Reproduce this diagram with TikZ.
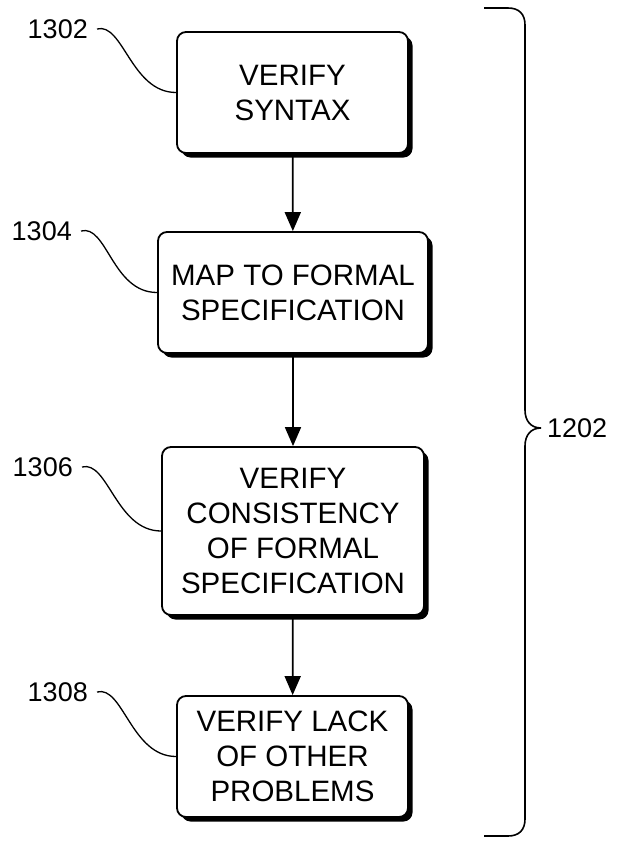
\documentclass[tikz,border=0pt]{standalone}
\usepackage{fontspec}
\setmainfont{Liberation Sans}
\usetikzlibrary{arrows.meta,shadows}
\begin{document}
\begin{tikzpicture}[x=1pt,y=-1pt,
  stepbox/.style={draw=black, line width=1.8pt, rounded corners=9pt, fill=white,
    align=center, inner sep=2pt,
    font=\fontsize{29.5}{35}\selectfont,
    drop shadow={shadow xshift=4.5pt, shadow yshift=-4.5pt, fill=black, opacity=1}},
  reflabel/.style={anchor=east, inner sep=0pt, font=\fontsize{27}{30}\selectfont},
  leader/.style={line width=1.3pt},
  flow/.style={line width=1.8pt, -{Triangle[length=19pt,width=16pt]}}]
\useasboundingbox (0,0) rectangle (624,844);

\node[stepbox, minimum width=231pt, minimum height=121pt] (b1) at (292.5,92.5) {VERIFY\\SYNTAX};
\node[stepbox, minimum width=270pt, minimum height=121pt] (b2) at (293,292.5) {MAP TO FORMAL\\SPECIFICATION};
\node[stepbox, minimum width=262pt, minimum height=168pt] (b3) at (293,531) {VERIFY\\CONSISTENCY\\OF FORMAL\\SPECIFICATION};
\node[stepbox, minimum width=231pt, minimum height=121pt] (b4) at (292.5,756.5) {VERIFY LACK\\OF OTHER\\PROBLEMS};

\draw[flow] (b1) -- (b2);
\draw[flow] (b2) -- (b3);
\draw[flow] (b3) -- (b4);

\node[reflabel] (l1) at (88,29) {1302};
\node[reflabel] (l2) at (72,231) {1304};
\node[reflabel] (l3) at (73,467) {1306};
\node[reflabel] (l4) at (88,692) {1308};

\coordinate (s1) at ([xshift=9pt]l1.east);
\coordinate (s2) at ([xshift=9pt]l2.east);
\coordinate (s3) at ([xshift=9pt]l3.east);
\coordinate (s4) at ([xshift=9pt]l4.east);

\draw[leader] (s1) .. controls +(26,-7) and +(-45,0) .. (b1.west);
\draw[leader] (s2) .. controls +(26,-7) and +(-45,0) .. (b2.west);
\draw[leader] (s3) .. controls +(26,-7) and +(-45,0) .. (b3.west);
\draw[leader] (s4) .. controls +(26,-7) and +(-45,0) .. (b4.west);

\draw[line width=1.6pt] (484,8) -- (508,8) .. controls (519,8) and (525,14) .. (525,25)
  -- (525,410) .. controls (525,421) and (531,428) .. (541,428)
  .. controls (531,428) and (525,435) .. (525,446)
  -- (525,819) .. controls (525,830) and (519,836) .. (508,836) -- (484,836);
\node[anchor=west, inner sep=0pt, font=\fontsize{27}{30}\selectfont] (l5) at (547,428) {1202};
\end{tikzpicture}
\end{document}
